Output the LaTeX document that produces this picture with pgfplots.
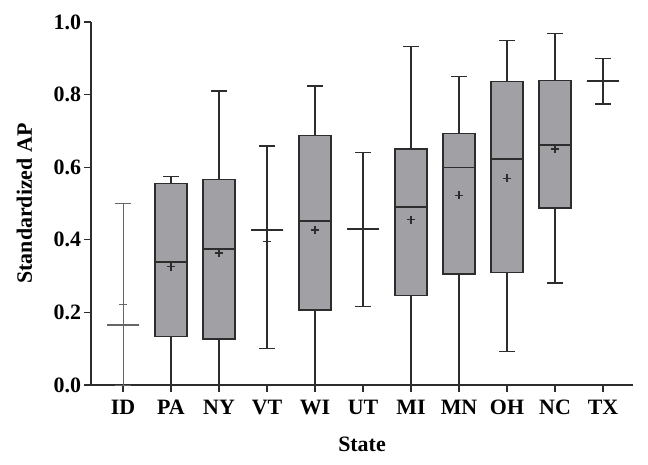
\documentclass[border=0pt]{standalone}
\usepackage{fontspec}
\setmainfont{Liberation Serif}
\usepackage{pgfplots}
\pgfplotsset{compat=1.18}
\usepgfplotslibrary{statistics}
\definecolor{boxfill}{RGB}{161,160,165}
\definecolor{axcol}{RGB}{45,45,45}
\begin{document}
\begin{tikzpicture}
\useasboundingbox (-91bp,-80bp) rectangle (557bp,385bp);
\begin{axis}[
  at={(0,0)}, anchor=south west, scale only axis,
  width=542bp, height=363bp,
  xmin=-0.667, xmax=10.625, ymin=0, ymax=1,
  axis x line*=bottom, axis y line*=left,
  axis line style={line width=1.3pt, color=axcol},
  xtick={0,...,10},
  xticklabels={ID,PA,NY,VT,WI,UT,MI,MN,OH,NC,TX},
  ytick={0,0.2,0.4,0.6,0.8,1.0},
  tick style={line width=1.3pt, color=axcol},
  tick align=outside, major tick length=6.5bp,
  /pgf/number format/fixed, /pgf/number format/fixed zerofill,
  /pgf/number format/precision=1, /pgf/number format/assume math mode=true,
  ticklabel style={font=\fontsize{22}{24}\selectfont\bfseries},
  xticklabel style={yshift=-5bp},
  xlabel={State}, ylabel={Standardized AP},
  label style={font=\fontsize{22}{24}\selectfont\bfseries},
  xlabel style={at={(axis description cs:0.5,-0.163)}, anchor=center},
  ylabel style={at={(axis description cs:-0.123,0.5)}, anchor=center},
  boxplot/draw direction=y,
  boxplot/box extend=0.667,
  boxplot/whisker extend=0.33,
  boxplot/every average/.style={/tikz/mark=+, mark size=4bp},
  boxplot/every median/.style={line width=1.8pt},
  clip=false,
]
% ID
\addplot[boxplot prepared={draw position=0, lower whisker=0, lower quartile=0.165, median=0.165, upper quartile=0.165, upper whisker=0.500, average=0.222},
  draw=black!60, line width=0.9pt, mark=+, mark options={draw=black!60, line width=0.9pt},
  boxplot/every median/.style={line width=1.4pt}] coordinates {};
% PA
\addplot[boxplot prepared={draw position=1, lower whisker=0, lower quartile=0.133, median=0.338, upper quartile=0.555, upper whisker=0.575, average=0.326},
  draw=axcol, fill=boxfill, line width=1.3pt, mark=+, mark options={draw=black, fill=none, line width=1.3pt}] coordinates {};
% NY
\addplot[boxplot prepared={draw position=2, lower whisker=0, lower quartile=0.127, median=0.375, upper quartile=0.567, upper whisker=0.810, average=0.364},
  draw=axcol, fill=boxfill, line width=1.3pt, mark=+, mark options={draw=black, fill=none, line width=1.3pt}] coordinates {};
% VT
\addplot[boxplot prepared={draw position=3, lower whisker=0.101, lower quartile=0.426, median=0.426, upper quartile=0.426, upper whisker=0.658, average=0.395},
  draw=axcol, line width=1.3pt, mark=+, mark options={draw=black, fill=none, line width=1.3pt}] coordinates {};
% WI
\addplot[boxplot prepared={draw position=4, lower whisker=0, lower quartile=0.207, median=0.451, upper quartile=0.688, upper whisker=0.824, average=0.427},
  draw=axcol, fill=boxfill, line width=1.3pt, mark=+, mark options={draw=black, fill=none, line width=1.3pt}] coordinates {};
% UT
\addplot[boxplot prepared={draw position=5, lower whisker=0.216, lower quartile=0.429, median=0.429, upper quartile=0.429, upper whisker=0.641},
  draw=axcol, line width=1.3pt] coordinates {};
% MI
\addplot[boxplot prepared={draw position=6, lower whisker=0, lower quartile=0.246, median=0.491, upper quartile=0.650, upper whisker=0.933, average=0.455},
  draw=axcol, fill=boxfill, line width=1.3pt, mark=+, mark options={draw=black, fill=none, line width=1.3pt}] coordinates {};
% MN
\addplot[boxplot prepared={draw position=7, lower whisker=0, lower quartile=0.306, median=0.599, upper quartile=0.693, upper whisker=0.849, average=0.523},
  draw=axcol, fill=boxfill, line width=1.3pt, mark=+, mark options={draw=black, fill=none, line width=1.3pt}] coordinates {};
% OH
\addplot[boxplot prepared={draw position=8, lower whisker=0.092, lower quartile=0.309, median=0.622, upper quartile=0.836, upper whisker=0.949, average=0.569},
  draw=axcol, fill=boxfill, line width=1.3pt, mark=+, mark options={draw=black, fill=none, line width=1.3pt}] coordinates {};
% NC
\addplot[boxplot prepared={draw position=9, lower whisker=0.281, lower quartile=0.488, median=0.662, upper quartile=0.839, upper whisker=0.968, average=0.650},
  draw=axcol, fill=boxfill, line width=1.3pt, mark=+, mark options={draw=black, fill=none, line width=1.3pt}] coordinates {};
% TX
\addplot[boxplot prepared={draw position=10, lower whisker=0.774, lower quartile=0.837, median=0.837, upper quartile=0.837, upper whisker=0.899},
  draw=axcol, line width=1.3pt] coordinates {};
\end{axis}
\end{tikzpicture}
\end{document}
